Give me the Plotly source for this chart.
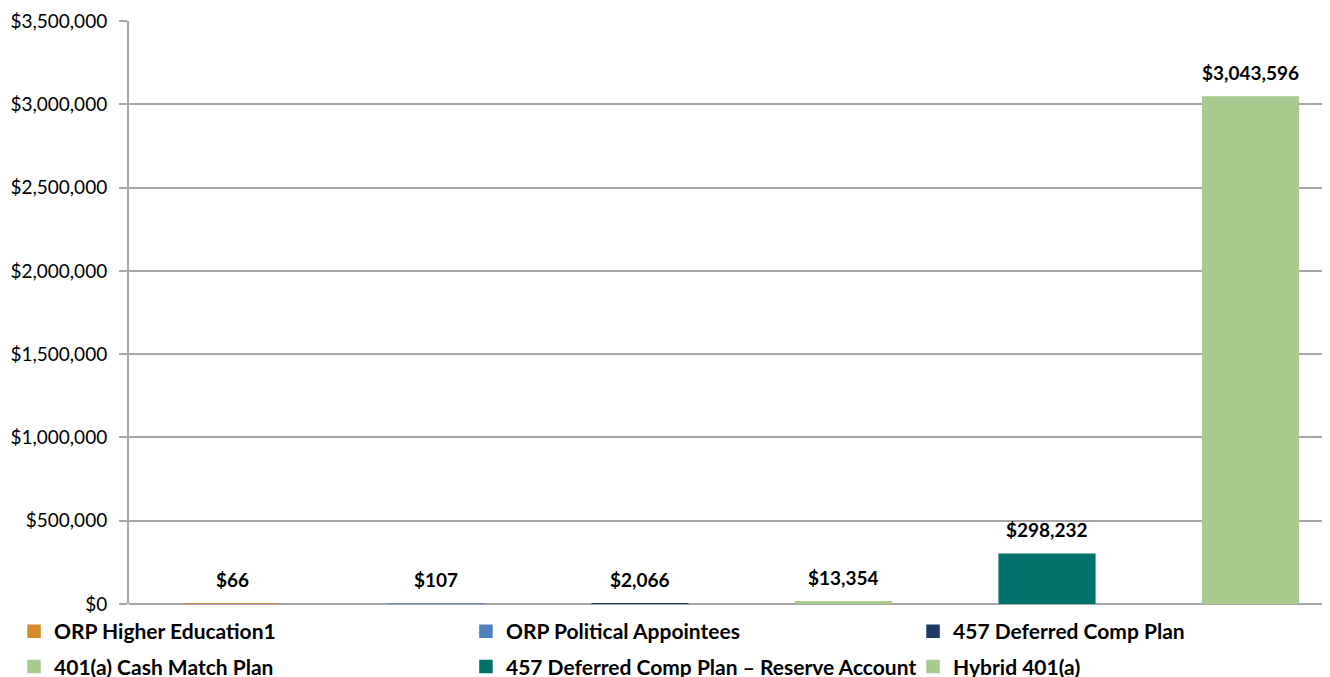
import plotly.graph_objects as go

plans = ["ORP Higher Education1", "ORP Political Appointees", "457 Deferred Comp Plan",
         "401(a) Cash Match Plan", "457 Deferred Comp Plan \u2013 Reserve Account", "Hybrid 401(a)"]
values = [66, 107, 2066, 13354, 298232, 3043596]
colors = ["#D4892A", "#4F81BD", "#1F3864", "#A9CB8F", "#00706A", "#A9CB8F"]
tick_vals = [0, 500000, 1000000, 1500000, 2000000, 2500000, 3000000, 3500000]
tick_text = ["$0", "$500,000", "$1,000,000", "$1,500,000", "$2,000,000", "$2,500,000", "$3,000,000", "$3,500,000"]

FONT = "Lato, Open Sans, sans-serif"
legend_ids = ["legend", "legend2", "legend3"]

fig = go.Figure()
for i, (name, v, c) in enumerate(zip(plans, values, colors)):
    fig.add_trace(go.Bar(
        x=[i], y=[v], name=name, marker=dict(color=c, line=dict(width=1.5, color=c)),
        width=0.47, cliponaxis=False,
        legend=legend_ids[i % 3], legendgroup=f"g{i}",
    ))
    fig.add_annotation(x=i, y=v, text=f"<b>${v:,}</b>", showarrow=False,
                       yanchor="bottom", yshift=11,
                       font=dict(family=FONT, size=19, color="black"))

legend_common = dict(orientation="v", xanchor="left", yanchor="top", y=-0.012,
                     traceorder="grouped", tracegroupgap=5,
                     font=dict(family=FONT, size=21, color="black", weight="bold"),
                     itemwidth=30, bgcolor="rgba(0,0,0,0)")

fig.update_layout(
    width=1330, height=677,
    margin=dict(l=121, r=0, t=13, b=81, autoexpand=False),
    barmode="overlay",
    plot_bgcolor="white", paper_bgcolor="white",
    showlegend=True,
    legend=dict(x=-0.0951, **legend_common),
    legend2=dict(x=0.2787, **legend_common),
    legend3=dict(x=0.6485, **legend_common),
    xaxis=dict(range=[-0.511, 5.43], showticklabels=False, showgrid=False, zeroline=False,
               showline=False, ticks="", layer="below traces"),
    yaxis=dict(range=[0, 3500000], tickvals=tick_vals, ticktext=tick_text,
               showgrid=True, gridcolor="#A6A6A6", gridwidth=1.5,
               showline=True, linecolor="#A6A6A6", linewidth=2,
               ticks="outside", ticklen=8, tickcolor="#A6A6A6", tickwidth=1.5,
               ticklabelstandoff=8, layer="below traces",
               zeroline=True, zerolinecolor="#A6A6A6", zerolinewidth=2,
               tickfont=dict(family=FONT, size=19, color="black")),
)

fig.write_html("out.html")
